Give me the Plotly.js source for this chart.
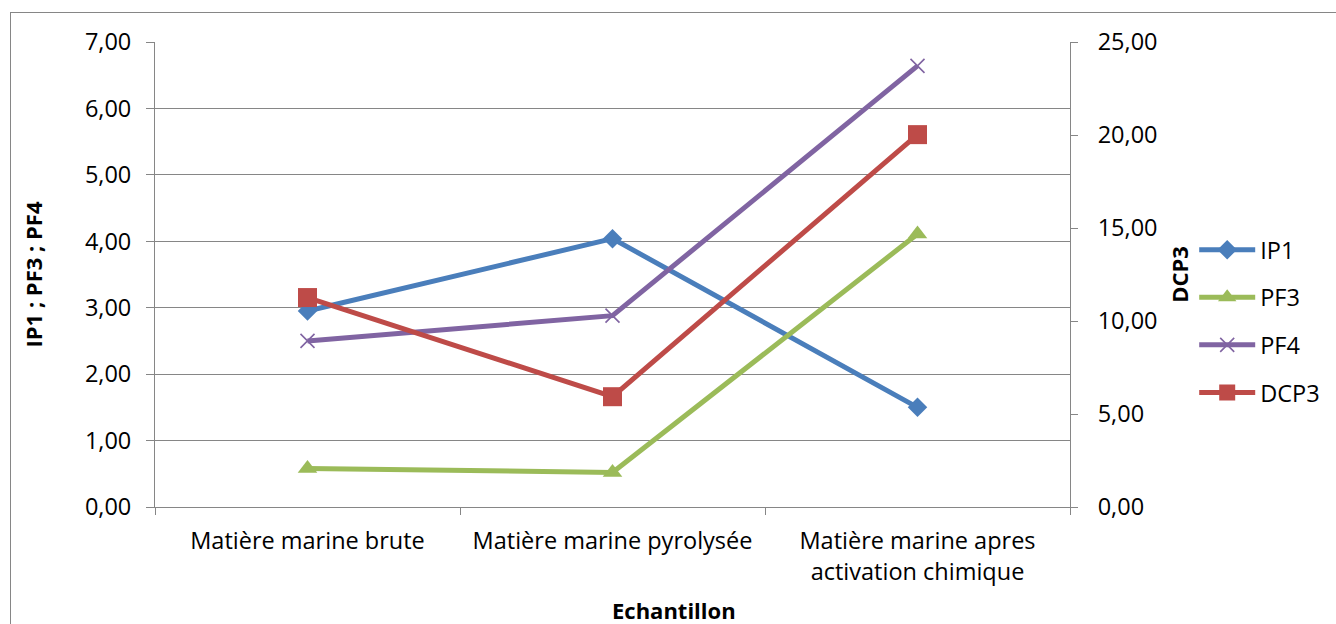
<!DOCTYPE html>
<html>
<head>
<meta charset="utf-8">
<script src="https://cdn.plot.ly/plotly-3.0.1.min.js"></script>
<style>
  html, body { margin: 0; padding: 0; overflow: hidden; background: #fff; }
  #chart { width: 1336px; height: 624px; }
  #frame { position: absolute; left: 10px; top: 12px; width: 1400px; height: 700px;
           border: 1px solid #868686; pointer-events: none; }
</style>
</head>
<body>
<div id="chart"></div>
<div id="frame"></div>
<script>
// Samples along the x axis
const categories = [
  "Matière marine brute",
  "Matière marine pyrolysée",
  "Matière marine apres<br>activation chimique"
];

// Indices on the left axis
const ip1 = [2.95, 4.04, 1.50];
const pf3 = [0.58, 0.52, 4.11];
const pf4 = [2.50, 2.88, 6.64];

// DCP3 on the right axis
const dcp3 = [11.26, 5.93, 20.02];

const leftTicks = [0, 1, 2, 3, 4, 5, 6, 7];
const rightTicks = [0, 5, 10, 15, 20, 25];

const FONT = "Open Sans, sans-serif";
const GRID = "#868686";

function series(name, y, color, symbol, size, yaxis, group) {
  const open = symbol.indexOf("x-thin") === 0;
  return {
    type: "scatter",
    mode: "lines+markers",
    name: name,
    x: categories,
    y: y,
    yaxis: yaxis,
    legendgroup: group,
    line: { color: color, width: 5 },
    marker: {
      symbol: symbol,
      size: size,
      color: color,
      line: { color: color, width: open ? 1.6 : 0 }
    },
    hoverinfo: "x+y+name"
  };
}

const data = [
  series("IP1", ip1, "#4A7EBB", "diamond", 15, "y", "g1"),
  series("PF3", pf3, "#9BBB59", "triangle-up", 17, "y", "g2"),
  series("PF4", pf4, "#8064A2", "x-thin-open", 14, "y", "g3"),
  series("DCP3", dcp3, "#BE4B48", "square", 19, "y2", "g4")
];

const layout = {
  width: 1336,
  height: 624,
  margin: { l: 155, r: 265, t: 42, b: 117, pad: 0 },
  paper_bgcolor: "#ffffff",
  plot_bgcolor: "#ffffff",
  separators: ", ",
  font: { family: FONT, size: 23.5, color: "#000000" },
  showlegend: true,
  legend: {
    x: 1.1345, xanchor: "left",
    y: 0.399, yanchor: "middle",
    font: { family: FONT, size: 23.5, color: "#000000" },
    itemwidth: 56,
    tracegroupgap: 14,
    bgcolor: "rgba(0,0,0,0)",
    borderwidth: 0
  },
  xaxis: {
    type: "category",
    range: [-0.5, 2.5],
    showgrid: false,
    zeroline: false,
    showline: true,
    linecolor: GRID,
    linewidth: 1,
    ticks: "outside",
    tickson: "boundaries",
    ticklen: 7,
    tickcolor: GRID,
    tickwidth: 1,
    ticklabelstandoff: 13,
    tickfont: { family: FONT, size: 23.5, color: "#000000" },
    fixedrange: true
  },
  yaxis: {
    range: [0, 7],
    tickvals: leftTicks,
    tickformat: ".2f",
    showgrid: true,
    gridcolor: GRID,
    gridwidth: 1,
    zeroline: false,
    showline: true,
    linecolor: GRID,
    linewidth: 1,
    ticks: "outside",
    ticklen: 8,
    tickcolor: GRID,
    tickwidth: 1,
    ticklabelstandoff: 10,
    tickfont: { family: FONT, size: 23.5, color: "#000000" },
    title: {
      text: "<b>IP1 ; PF3 ; PF4</b>",
      font: { family: FONT, size: 22, color: "#000000" },
      standoff: 36
    },
    fixedrange: true
  },
  yaxis2: {
    overlaying: "y",
    side: "right",
    range: [0, 25],
    tickvals: rightTicks,
    tickformat: ".2f",
    showgrid: false,
    zeroline: false,
    showline: true,
    linecolor: GRID,
    linewidth: 1,
    ticks: "outside",
    ticklen: 7,
    tickcolor: GRID,
    tickwidth: 1,
    ticklabelstandoff: 15,
    tickfont: { family: FONT, size: 23.5, color: "#000000" },
    title: {
      text: "<b>DCP3</b>",
      font: { family: FONT, size: 22, color: "#000000" },
      standoff: 16
    },
    fixedrange: true
  },
  annotations: [{
    text: "<b>Echantillon</b>",
    xref: "paper", yref: "paper",
    x: (675 - 155) / 916, y: (507 - 610) / 465,
    xanchor: "center", yanchor: "middle",
    showarrow: false,
    font: { family: FONT, size: 22, color: "#000000" }
  }]
};

Plotly.newPlot("chart", data, layout, { displayModeBar: false, staticPlot: true });
</script>
</body>
</html>
